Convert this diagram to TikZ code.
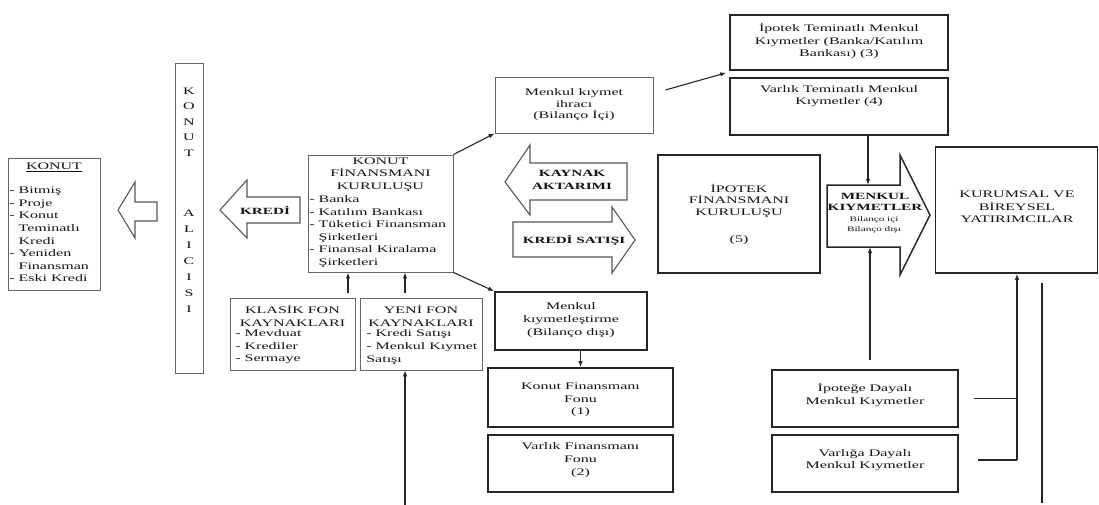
\documentclass[tikz,border=0pt]{standalone}
\usepackage{fontspec}
\setmainfont{Liberation Serif}
\usetikzlibrary{arrows.meta,calc}
\begin{document}
\begin{tikzpicture}[x=1pt,y=-1pt,
  every node/.style={font=\fontsize{10}{12.6}\selectfont, text=black!92, inner sep=0pt},
  lbl/.style={xscale=1.6, transform shape, align=center},
  thinbox/.style={draw=black!60, line width=0.9pt, inner sep=0pt},
  thickbox/.style={draw=black!85, line width=1.6pt, inner sep=0pt},
  hollow/.style={draw=black!65, line width=1.1pt, line join=miter},
  conn/.style={draw=black!85, line width=1.1pt, -{Latex[length=6pt,width=4.5pt]}},
  plainline/.style={draw=black!85, line width=1.1pt},
  albl/.style={lbl, font=\bfseries\fontsize{9.5}{12.5}\selectfont},
]
\useasboundingbox (0,0) rectangle (1099,505);
\fill[white] (0,0) rectangle (1099,505);

% KONUT box
\node[thinbox, minimum width=92pt, minimum height=132pt] (konut) at (54,224) {};
\node[lbl] (konutT) at (54,167) {\underline{KONUT}};
\node[lbl, anchor=west, align=left] (konutL) at (9,234.5) {- Bitmiş\\- Proje\\- Konut\\\phantom{- }Teminatlı\\\phantom{- }Kredi\\- Yeniden\\\phantom{- }Finansman\\- Eski Kredi};

% hollow arrow to KONUT
\draw[hollow] (157,202) -- (135,202) -- (135,182) -- (118,210) -- (135,238) -- (135,221) -- (157,221) -- cycle;

% KONUT ALICISI bar
\node[thinbox, minimum width=28pt, minimum height=310pt] (alici) at (189,218) {};
\node[lbl, font=\fontsize{10}{15.5}\selectfont] (aliciA) at (189,122) {K\\O\\N\\U\\T};
\node[lbl, font=\fontsize{10}{16}\selectfont] (aliciB) at (189,261) {A\\L\\I\\C\\I\\S\\I};

% KREDI arrow
\draw[hollow] (300,197) -- (247,197) -- (247,180) -- (220,210) -- (247,238) -- (247,223) -- (300,223) -- cycle;
\node[albl] (krediL) at (265,210) {KREDİ};

% Konut finansmani kurulusu
\node[thinbox, minimum width=145pt, minimum height=117pt] (fkk) at (380.5,213.5) {};
\node[lbl] (fkkT) at (380.5,174.5) {KONUT\\FİNANSMANI\\KURULUŞU};
\node[lbl, anchor=west, align=left] (fkkL) at (309,231.5) {- Banka\\- Katılım Bankası\\- Tüketici Finansman\\\phantom{- }Şirketleri\\- Finansal Kiralama\\\phantom{- }Şirketleri};

% Klasik / Yeni fon
\node[thinbox, minimum width=125pt, minimum height=72pt] (klasik) at (292.5,334) {};
\node[lbl] (klasikT) at (292.5,316) {KLASİK FON\\KAYNAKLARI};
\node[lbl, anchor=west, align=left] (klasikL) at (235,347) {- Mevduat\\- Krediler\\- Sermaye};
\node[thinbox, minimum width=122pt, minimum height=72pt] (yeni) at (421,334) {};
\node[lbl] (yeniT) at (421,316) {YENİ FON\\KAYNAKLARI};
\node[lbl, anchor=west, align=left] (yeniL) at (366,347) {- Kredi Satışı\\- Menkul Kıymet\\Satışı};

% Menkul kiymet ihraci
\node[thinbox, minimum width=158pt, minimum height=56pt] (ihrac) at (574,105) {};
\node[lbl, font=\fontsize{10}{11.5}\selectfont] (ihracL) at (ihrac.center) {Menkul kıymet\\ihracı\\(Bilanço İçi)};

% KAYNAK AKTARIMI
\draw[hollow] (627,163) -- (530,163) -- (530,145) -- (505,182) -- (530,215) -- (530,200) -- (627,200) -- cycle;
\node[albl] (kaynakL) at (572,180) {KAYNAK\\AKTARIMI};

% KREDI SATISI
\draw[hollow] (513,222) -- (612,222) -- (612,207) -- (635,240) -- (612,273) -- (612,257) -- (513,257) -- cycle;
\node[albl] (satisL) at (574,240) {KREDİ SATIŞI};

% Ipotek finansmani kurulusu
\node[thickbox, minimum width=162pt, minimum height=118pt] (ifk) at (739,214) {};
\node[lbl, font=\fontsize{10}{11.5}\selectfont] (ifkL) at (ifk.center) {İPOTEK\\FİNANSMANI\\KURULUŞU\\[15.5pt](5)};

% top right boxes
\node[thickbox, minimum width=218pt, minimum height=55pt] (ipotekT) at (839,42.5) {};
\node[lbl, font=\fontsize{10}{12.5}\selectfont] (ipotekTL) at (839,41) {İpotek Teminatlı Menkul\\Kıymetler (Banka/Katılım\\Bankası) (3)};
\node[thickbox, minimum width=218pt, minimum height=57pt] (varlikT) at (839,106.5) {};
\node[lbl] (varlikTL) at (839,96) {Varlık Teminatlı Menkul\\Kıymetler (4)};

% MENKUL KIYMETLER arrow
\draw[hollow, draw=black!85, line width=1.5pt] (827,185) -- (900,185) -- (900,155) -- (930,215) -- (900,275) -- (900,247) -- (827,247) -- cycle;
\node[albl, font=\bfseries\fontsize{9.5}{11}\selectfont] (mkL1) at (875,202) {MENKUL\\KIYMETLER};
\node[lbl, font=\fontsize{7}{10}\selectfont] (mkL2) at (874,225) {Bilanço içi\\Bilanço dışı};

% Kurumsal
\node[thickbox, minimum width=162pt, minimum height=126pt] (kurumsal) at (1016.5,210) {};
\node[lbl] (kurumsalL) at (1017,207) {KURUMSAL VE\\BİREYSEL\\YATIRIMCILAR};

% bottom boxes
\node[thickbox, minimum width=152pt, minimum height=58pt] (mkd) at (571,321) {};
\node[lbl] (mkdL) at (571,320) {Menkul\\kıymetleştirme\\(Bilanço dışı)};
\node[thickbox, minimum width=185pt, minimum height=59pt] (kff) at (580.5,397.5) {};
\node[lbl] (kffL) at (580.5,400) {Konut Finansmanı\\Fonu\\(1)};
\node[thickbox, minimum width=185pt, minimum height=57pt] (vff) at (580.5,463.5) {};
\node[lbl] (vffL) at (580.5,460) {Varlık Finansmanı\\Fonu\\(2)};
\node[thickbox, minimum width=186pt, minimum height=57pt] (ipoD) at (865,398.5) {};
\node[lbl] (ipoDL) at (865,395) {İpoteğe Dayalı\\Menkul Kıymetler};
\node[thickbox, minimum width=186pt, minimum height=57pt] (varD) at (865,463.5) {};
\node[lbl] (varDL) at (865,460) {Varlığa Dayalı\\Menkul Kıymetler};

% connectors
\draw[conn] (fkk.north east) -- (ihrac.south west);
\draw[conn] ([xshift=12pt,yshift=15pt]ihrac.east) -- ([xshift=-3pt,yshift=-2pt]ipotekT.south west);
\draw[conn] (fkk.south east) -- (mkd.north west);
\draw[conn] (mkd.south -| kff.north) -- (kff.north);
\coordinate (k1) at (348,293);
\draw[conn] (k1) -- (k1 |- fkk.south);
\coordinate (y1) at (405,293);
\draw[conn] (y1) -- (y1 |- fkk.south);
\coordinate (yb) at (405,505);
\draw[conn] (yb) -- (yb |- yeni.south);
\coordinate (mkTop) at (868,185);
\draw[conn] (mkTop |- varlikT.south) -- (mkTop);
\coordinate (mkBot) at (870,247);
\coordinate (mkFoot) at (870,360);
\draw[conn] (mkFoot) -- (mkBot);
\coordinate (bx) at (1017,460);
\draw[plainline] ([xshift=15pt]ipoD.east) -- (ipoD.east -| bx);
\draw[plainline] ([xshift=19pt,yshift=3.5pt]varD.east) -- ([yshift=3.5pt]varD.east -| bx);
\draw[conn] ([yshift=3.5pt]varD.east -| bx) -- (bx |- kurumsal.south);
\coordinate (r1) at (1042,283);
\coordinate (r2) at (1042,503);
\draw[plainline] (r1) -- (r2);
\end{tikzpicture}
\end{document}
